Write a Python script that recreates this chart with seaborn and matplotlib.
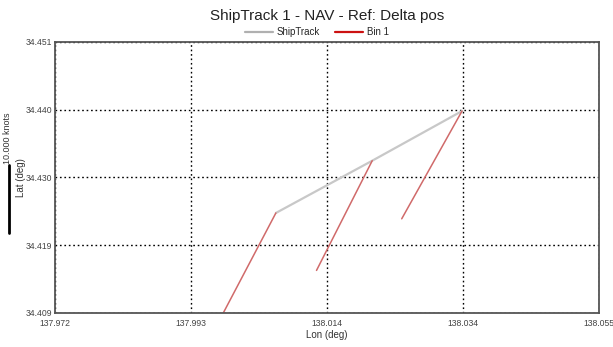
import matplotlib
matplotlib.use("Agg")
import matplotlib.pyplot as plt
import seaborn as sns
import pandas as pd
from matplotlib.lines import Line2D

# Ship track positions (lon, lat)
track_lon = [138.0057, 138.0204, 138.0341]
track_lat = [34.4245, 34.4326, 34.4403]

# Bin 1 delta-position segments: start (on track) and end points
bin_start_lon = [138.0057, 138.0204, 138.0341]
bin_start_lat = [34.4245, 34.4326, 34.4403]
bin_end_lon = [137.9970, 138.0119, 138.0249]
bin_end_lat = [34.4077, 34.4156, 34.4236]

x_ticks = [137.972, 137.99275, 138.0135, 138.03425, 138.055]
x_labels = ["137.972", "137.993", "138.014", "138.034", "138.055"]
y_ticks = [34.409, 34.4195, 34.430, 34.4405, 34.451]
y_labels = ["34.409", "34.419", "34.430", "34.440", "34.451"]

sns.set_theme(style="white")
plt.rcParams["font.family"] = ["Liberation Sans", "DejaVu Sans"]

fig = plt.figure(figsize=(6.13, 3.47), dpi=100)
ax = fig.add_axes([55 / 613, 1 - 313 / 347, 544 / 613, 271 / 347])

track = pd.DataFrame({"lon": track_lon, "lat": track_lat})
sns.lineplot(data=track, x="lon", y="lat", sort=False, color="#c8c8c8",
             lw=1.6, ax=ax, legend=False)

for i in range(len(bin_start_lon)):
    seg = pd.DataFrame({"lon": [bin_start_lon[i], bin_end_lon[i]],
                        "lat": [bin_start_lat[i], bin_end_lat[i]]})
    sns.lineplot(data=seg, x="lon", y="lat", sort=False, color="#d06a6a",
                 lw=1.1, ax=ax, legend=False)

ax.set_xlim(x_ticks[0], x_ticks[-1])
ax.set_ylim(y_ticks[0], y_ticks[-1])
ax.set_xticks(x_ticks)
ax.set_xticklabels(x_labels)
ax.set_yticks(y_ticks)
ax.set_yticklabels(y_labels)
ax.tick_params(axis="both", labelsize=6.2, colors="#444444", length=0, pad=2)
ax.tick_params(axis="x", pad=4)

ax.grid(True, color="black", linestyle=(0, (1.2, 2.0)), lw=1.0)
for spine in ax.spines.values():
    spine.set_color("#555555")
    spine.set_linewidth(1.3)

ax.set_xlabel("Lon (deg)", fontsize=7, color="#333333", labelpad=2)
ax.set_ylabel("Lat (deg)", fontsize=7, color="#333333")
ax.yaxis.set_label_coords(-29 / 544, 0.5)

fig.suptitle("ShipTrack 1 - NAV - Ref: Delta pos", x=327 / 613, y=1 - 16 / 347,
             fontsize=11, color="#222222", va="center")

handles = [Line2D([], [], color="#b0b0b0", lw=1.6),
           Line2D([], [], color="#cc1111", lw=1.6)]
fig.legend(handles, ["ShipTrack", "Bin 1"], loc="center",
           bbox_to_anchor=(317 / 613, 1 - 32 / 347), ncol=2, frameon=False,
           fontsize=7, handlelength=2.8, handletextpad=0.4, columnspacing=1.6)

# Speed scale bar on the left margin
fig.add_artist(Line2D([9 / 613, 9 / 613], [1 - 165 / 347, 1 - 233 / 347],
                      color="black", lw=2.0, transform=fig.transFigure))
fig.text(8 / 613, 1 - 138 / 347, "10.000 knots", rotation=90, fontsize=6.5,
         color="#333333", ha="center", va="center")

fig.savefig("out.png", dpi=100)
